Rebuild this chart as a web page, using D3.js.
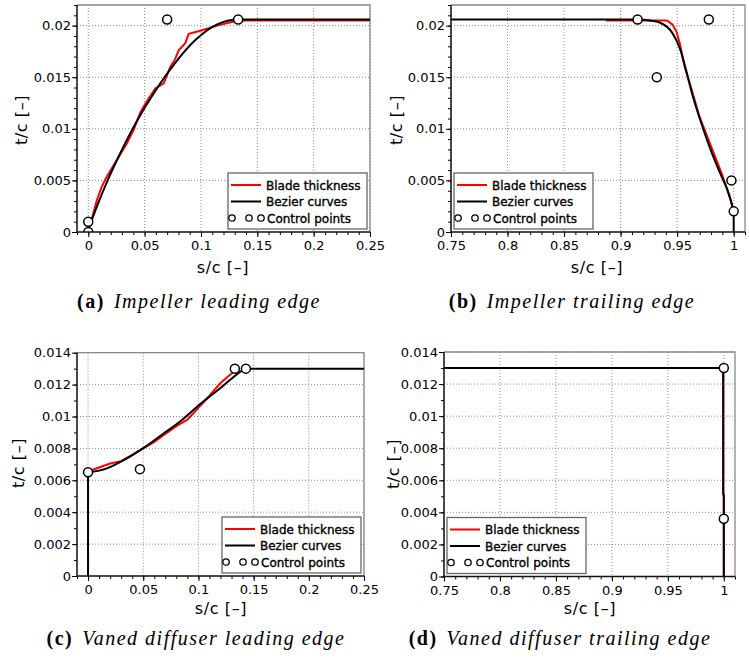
<!DOCTYPE html>
<html>
<head>
<meta charset="utf-8">
<script src="https://cdn.jsdelivr.net/npm/d3@7"></script>
<style>
  body { margin: 0; background: #fff; }
  svg text { font-family: "DejaVu Sans", sans-serif; fill: #000; }
</style>
</head>
<body>
<svg id="fig" width="749" height="662"></svg>
<script>

// ---- tick labels
var xTicksLE = [0, 0.05, 0.1, 0.15, 0.2, 0.25];
var xLabelsLE = ["0", "0.05", "0.1", "0.15", "0.2", "0.25"];
var xTicksTE = [0.75, 0.8, 0.85, 0.9, 0.95, 1];
var xLabelsTE = ["0.75", "0.8", "0.85", "0.9", "0.95", "1"];
var yTicksImp = [0, 0.005, 0.01, 0.015, 0.02];
var yLabelsImp = ["0", "0.005", "0.01", "0.015", "0.02"];
var yTicksDif = [0, 0.002, 0.004, 0.006, 0.008, 0.01, 0.012, 0.014];
var yLabelsDif = ["0", "0.002", "0.004", "0.006", "0.008", "0.01", "0.012", "0.014"];

// ---- (a) impeller leading edge  [s/c, t/c]
var aBlade = [[0.003, 0.0012], [0.0077, 0.0031], [0.012, 0.0044], [0.0166, 0.0054], [0.0255, 0.0070],
  [0.0343, 0.0086], [0.0403, 0.0099], [0.0462, 0.0116], [0.0521, 0.0127], [0.0595, 0.0139],
  [0.0669, 0.0144], [0.0728, 0.0160], [0.0773, 0.0168], [0.0802, 0.0176], [0.0861, 0.0183],
  [0.0891, 0.0192], [0.0995, 0.0195], [0.1143, 0.0200], [0.129, 0.0204], [0.14, 0.0205], [0.25, 0.0205]];
var aBezier = [[0, 0], [0.0005, 0.0003], [0.002, 0.0008], [0.0078, 0.0025], [0.0168, 0.0049],
  [0.0287, 0.0077], [0.0429, 0.0107], [0.059, 0.0136], [0.0765, 0.0163], [0.095, 0.0186],
  [0.114, 0.0201], [0.133, 0.0206], [0.25, 0.0206]];
var aControl = [[0, 0], [0, 0.001], [0.07, 0.0206], [0.133, 0.0206]];

// ---- (b) impeller trailing edge
var bBlade = [[0.887, 0.0205], [0.941, 0.0205], [0.946, 0.0201], [0.9494, 0.0194], [0.9523, 0.0183],
  [0.9567, 0.0160], [0.962, 0.0141], [0.970, 0.0111], [0.980, 0.0083], [0.990, 0.0055],
  [0.997, 0.0032], [0.9995, 0.0022]];
var bBezier = [[0.75, 0.0206], [0.915, 0.0206], [0.926, 0.0205], [0.9345, 0.0203], [0.9457, 0.0193],
  [0.9524, 0.0178], [0.9576, 0.0158], [0.9632, 0.0134], [0.9703, 0.0109], [0.9788, 0.0082],
  [0.988, 0.0057], [0.996, 0.0036], [1.0, 0.002]];
var bEdge = [[1.0, 0.002], [1.0, 0]];
var bControl = [[0.915, 0.0206], [0.932, 0.015], [0.978, 0.0206], [0.998, 0.005], [1.0, 0.002]];

// ---- (c) vaned diffuser leading edge
var cBlade = [[0.002, 0.0066], [0.01, 0.0068], [0.02, 0.00705], [0.03, 0.0072], [0.04, 0.0076],
  [0.05, 0.0080], [0.06, 0.0084], [0.07, 0.0089], [0.08, 0.0094], [0.09, 0.0098], [0.1, 0.01055],
  [0.11, 0.0113], [0.12, 0.0121], [0.13, 0.0127], [0.137, 0.0130]];
var cBezier = [[0, 0.0065], [0.0152, 0.0067], [0.032, 0.00725], [0.0497, 0.0080], [0.0678, 0.0089],
  [0.0854, 0.0098], [0.1019, 0.0108], [0.1166, 0.0116], [0.1288, 0.0123], [0.1378, 0.0128],
  [0.143, 0.013], [0.25, 0.013]];
var cEdge = [[0, 0], [0, 0.0065]];
var cControl = [[0, 0.0065], [0.047, 0.0067], [0.133, 0.013], [0.143, 0.013]];

// ---- (d) vaned diffuser trailing edge
var dBlade = [[0.75, 0.013], [0.9995, 0.013], [0.9995, 0.0051], [1.0, 0.0051], [1.0, 0]];
var dBezier = [[0.75, 0.013], [0.9995, 0.013], [0.9995, 0.0051]];
var dEdge = [[1.0, 0.0051], [1.0, 0]];
var dControl = [[1.0, 0.013], [1.0, 0.0036]];

var legendNames = ["Blade thickness", "Bezier curves", "Control points"];

var svg = d3.select("#fig");

var panels = [
  { id: "a", left: 77, right: 370, top: 5, bottom: 232, xDomain: [-0.01, 0.25], yDomain: [0, 0.022],
    xt: xTicksLE, xl: xLabelsLE, yt: yTicksImp, yl: yLabelsImp, xMinor: d3.range(-0.01, 0.2501, 0.01), yMinor: d3.range(0, 0.0221, 0.001),
    blade: [aBlade], bezier: [aBezier], smooth: [true], control: aControl, legendSide: "right",
    xLabelX: 223, xLabelY: 273, yLabelX: 27, yLabelY: 120, capX: 199, capY: 308, cap: "(a)", capText: "Impeller leading edge" },
  { id: "b", left: 451, right: 745, top: 5, bottom: 232, xDomain: [0.75, 1.01], yDomain: [0, 0.022],
    xt: xTicksTE, xl: xLabelsTE, yt: yTicksImp, yl: yLabelsImp, xMinor: d3.range(0.75, 1.0101, 0.01), yMinor: d3.range(0, 0.0221, 0.001),
    blade: [bBlade], bezier: [bBezier, bEdge], smooth: [true, false], control: bControl, legendSide: "left",
    xLabelX: 597, xLabelY: 273, yLabelX: 402, yLabelY: 120, capX: 572, capY: 308, cap: "(b)", capText: "Impeller trailing edge" },
  { id: "c", left: 77, right: 364, top: 352.7, bottom: 576, xDomain: [-0.01, 0.25], yDomain: [0, 0.014],
    xt: xTicksLE, xl: xLabelsLE, yt: yTicksDif, yl: yLabelsDif, xMinor: d3.range(-0.01, 0.2501, 0.01), yMinor: d3.range(0, 0.0141, 0.001),
    blade: [cBlade], bezier: [cEdge, cBezier], smooth: [false, true], control: cControl, legendSide: "right",
    xLabelX: 221, xLabelY: 614, yLabelX: 24, yLabelY: 463, capX: 196, capY: 645, cap: "(c)", capText: "Vaned diffuser leading edge" },
  { id: "d", left: 444, right: 735, top: 352, bottom: 576.5, xDomain: [0.75, 1.01], yDomain: [0, 0.014],
    xt: xTicksTE, xl: xLabelsTE, yt: yTicksDif, yl: yLabelsDif, xMinor: d3.range(0.75, 1.0101, 0.01), yMinor: d3.range(0, 0.0141, 0.001),
    blade: [dBlade], bezier: [dBezier, dEdge], smooth: [false, false], control: dControl, legendSide: "left",
    xLabelX: 590, xLabelY: 614, yLabelX: 399, yLabelY: 464, capX: 560, capY: 645, cap: "(d)", capText: "Vaned diffuser trailing edge" }
];

panels.forEach(drawPanel);

function drawPanel(p) {
  var x = d3.scaleLinear().domain(p.xDomain).range([p.left, p.right]);
  var y = d3.scaleLinear().domain(p.yDomain).range([p.bottom, p.top]);
  var g = svg.append("g");

  g.append("defs").append("clipPath").attr("id", "clip-" + p.id)
    .append("rect")
    .attr("x", p.left).attr("y", p.top)
    .attr("width", p.right - p.left).attr("height", p.bottom - p.top);

  // dotted grid
  g.selectAll(".gx").data(p.xt).enter().append("line")
    .attr("x1", function (d) { return x(d); }).attr("x2", function (d) { return x(d); })
    .attr("y1", p.top).attr("y2", p.bottom)
    .attr("stroke", "#8a8a8a").attr("stroke-width", 1).attr("stroke-dasharray", "1,2");
  g.selectAll(".gy").data(p.yt.slice(1)).enter().append("line")
    .attr("x1", p.left).attr("x2", p.right)
    .attr("y1", function (d) { return y(d); }).attr("y2", function (d) { return y(d); })
    .attr("stroke", "#8a8a8a").attr("stroke-width", 1).attr("stroke-dasharray", "1,2");

  // top and right frame
  g.append("path")
    .attr("d", "M" + p.left + "," + p.top + "H" + p.right + "V" + p.bottom)
    .attr("fill", "none").attr("stroke", "#888").attr("stroke-width", 1.3);

  var data = g.append("g").attr("clip-path", "url(#clip-" + p.id + ")");

  var smoothLine = d3.line().x(function (d) { return x(d[0]); }).y(function (d) { return y(d[1]); })
    .curve(d3.curveMonotoneX);
  var straightLine = d3.line().x(function (d) { return x(d[0]); }).y(function (d) { return y(d[1]); });

  p.blade.forEach(function (s) {
    data.append("path").attr("d", straightLine(s))
      .attr("fill", "none").attr("stroke", "#ff0000").attr("stroke-width", 2);
  });
  p.bezier.forEach(function (s, i) {
    data.append("path").attr("d", (p.smooth[i] ? smoothLine : straightLine)(s))
      .attr("fill", "none").attr("stroke", "#000").attr("stroke-width", 2);
  });
  data.selectAll(".cp").data(p.control).enter().append("circle")
    .attr("cx", function (d) { return x(d[0]); })
    .attr("cy", function (d) { return y(d[1]); })
    .attr("r", 4.5)
    .attr("fill", "#fff").attr("stroke", "#000").attr("stroke-width", 1.5);

  // axes: left and bottom
  var xAxis = d3.axisBottom(x).tickValues(p.xt).tickSize(5).tickFormat(function (d, i) { return p.xl[i]; });
  var xMinor = d3.axisBottom(x).tickValues(p.xMinor).tickSize(3).tickFormat("");
  var yAxis = d3.axisLeft(y).tickValues(p.yt).tickSize(5).tickFormat(function (d, i) { return p.yl[i]; });
  var yMinor = d3.axisLeft(y).tickValues(p.yMinor).tickSize(3).tickFormat("");

  var gxm = g.append("g").attr("transform", "translate(0," + p.bottom + ")").call(xMinor);
  var gym = g.append("g").attr("transform", "translate(" + p.left + ",0)").call(yMinor);
  var gx = g.append("g").attr("transform", "translate(0," + p.bottom + ")").call(xAxis);
  var gy = g.append("g").attr("transform", "translate(" + p.left + ",0)").call(yAxis);
  [gxm, gym, gx, gy].forEach(function (a) {
    a.select(".domain").remove();
    a.selectAll(".tick line").attr("stroke", "#000");
  });
  gx.selectAll(".tick text").attr("y", 9).attr("font-size", 13).attr("font-family", "DejaVu Sans");
  gy.selectAll(".tick text").attr("x", -6).attr("font-size", 13).attr("font-family", "DejaVu Sans");

  g.append("path")
    .attr("d", "M" + p.left + "," + p.top + "V" + p.bottom + "H" + p.right)
    .attr("fill", "none").attr("stroke", "#111").attr("stroke-width", 1.5);

  // axis titles
  g.append("text").attr("x", p.xLabelX).attr("y", p.xLabelY)
    .attr("text-anchor", "middle").attr("font-size", 16).attr("letter-spacing", 0.6)
    .text("s/c [–]");
  g.append("text")
    .attr("transform", "translate(" + p.yLabelX + "," + p.yLabelY + ") rotate(-90)")
    .attr("text-anchor", "middle").attr("font-size", 16).attr("letter-spacing", 0.6)
    .text("t/c [–]");

  // legend
  var lw = 139, lh = 56;
  var lx = p.legendSide === "right" ? p.right - 3 - lw : p.left + 3;
  var ly = p.bottom - 3 - lh;
  var leg = g.append("g").attr("transform", "translate(" + lx + "," + ly + ")");
  leg.append("rect").attr("width", lw).attr("height", lh)
    .attr("fill", "#fff").attr("stroke", "#666").attr("stroke-width", 1.3);
  leg.append("line").attr("x1", 3).attr("x2", 33).attr("y1", 12).attr("y2", 12)
    .attr("stroke", "#ff0000").attr("stroke-width", 2);
  leg.append("line").attr("x1", 3).attr("x2", 33).attr("y1", 28.5).attr("y2", 28.5)
    .attr("stroke", "#000").attr("stroke-width", 2);
  leg.selectAll(".lc").data([4, 21, 33]).enter().append("circle")
    .attr("cx", function (d) { return d; }).attr("cy", 45).attr("r", 3.2)
    .attr("fill", "#fff").attr("stroke", "#000").attr("stroke-width", 1.3);
  leg.selectAll(".lt").data(legendNames).enter().append("text")
    .attr("x", function (d, i) { return i < 2 ? 38 : 39; })
    .attr("y", function (d, i) { return [16.5, 33, 49.5][i]; })
    .attr("font-size", 12).attr("stroke", "#000").attr("stroke-width", 0.35)
    .text(function (d) { return d; });

  // caption
  var cap = g.append("text").attr("x", p.capX).attr("y", p.capY)
    .attr("text-anchor", "middle")
    .style("font-family", "'Liberation Serif', serif").attr("font-size", 20)
    .attr("letter-spacing", 1.5);
  cap.append("tspan").attr("font-weight", "bold").text(p.cap);
  cap.append("tspan").attr("font-style", "italic").attr("dx", 9).text(p.capText);
}
</script>
</body>
</html>
